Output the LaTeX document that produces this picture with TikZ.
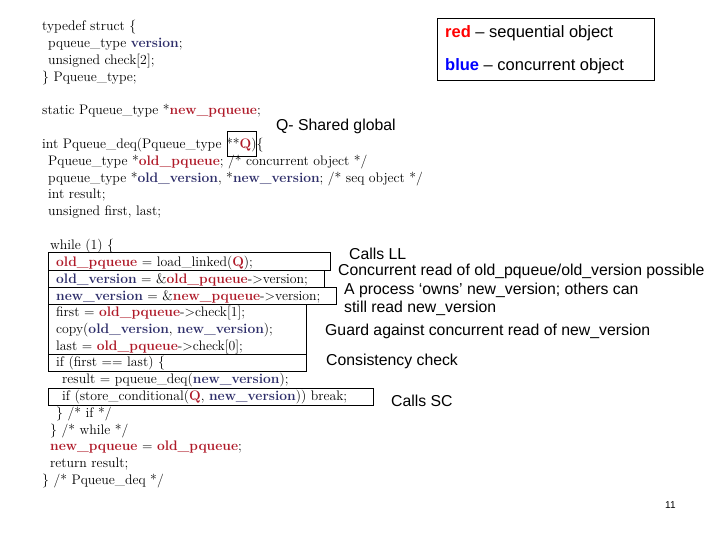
\documentclass[tikz,border=0pt]{standalone}
\usepackage{fontspec}
\newfontfamily\lsans{Liberation Sans}
\definecolor{cred}{RGB}{175,25,40}
\definecolor{cblue}{RGB}{45,45,105}
\newcommand{\R}[1]{\textcolor{cred}{\textbf{#1}}}
\newcommand{\B}[1]{\textcolor{cblue}{\textbf{#1}}}
\begin{document}
\begin{tikzpicture}[x=1pt,y=-1pt,
  code/.style={anchor=west,inner sep=0pt,font=\fontsize{13.8}{16}\selectfont},
  note/.style={anchor=west,inner sep=0pt,font=\lsans\fontsize{15.8}{18}\selectfont},
  leg/.style={anchor=west,inner sep=0pt,font=\lsans\fontsize{16.5}{19}\selectfont},
  bx/.style={draw,line width=0.7pt}]
\useasboundingbox (0,0) rectangle (720,540);
% top code
\node[code] (l1) at (42,27) {typedef struct \{};
\node[code] (l2) at (48,44) {pqueue\_type \B{version};};
\node[code] (l3) at (48,61) {unsigned check[2];};
\node[code] (l4) at (42,78) {\} Pqueue\_type;};
\node[code] (l5) at (42,111) {static Pqueue\_type *\R{new\_pqueue};};
\node[code] (l6) at (42,145) {int Pqueue\_deq(Pqueue\_type **\R{Q})\{};
\node[code] (l7) at (48,162) {Pqueue\_type *\R{old\_pqueue}; /* concurrent object */};
\node[code] (l8) at (48,179) {pqueue\_type *\B{old\_version}, *\B{new\_version}; /* seq object */};
\node[code] (l9) at (48,195) {int result;};
\node[code] (l10) at (48,212) {unsigned first, last;};
% loop
\node[code] (w0) at (50,246) {while (1) \{};
\node[code] (w1) at (56,263) {\R{old\_pqueue} = load\_linked(\R{Q});};
\node[code] (w2) at (56,280) {\B{old\_version} = \&\R{old\_pqueue}->version;};
\node[code] (w3) at (56,297) {\B{new\_version} = \&\R{new\_pqueue}->version;};
\node[code] (w4) at (56,313) {first = \R{old\_pqueue}->check[1];};
\node[code] (w5) at (56,330) {copy(\B{old\_version}, \B{new\_version});};
\node[code] (w6) at (56,347) {last = \R{old\_pqueue}->check[0];};
\node[code] (w7) at (56,363) {if (first == last) \{};
\node[code] (w8) at (62,380) {result = pqueue\_deq(\B{new\_version});};
\node[code] (w9) at (62,397) {if (store\_conditional(\R{Q}, \B{new\_version})) break;};
\node[code] (w10) at (56,414) {\} /* if */};
\node[code] (w11) at (50,431) {\} /* while */};
\node[code] (w12) at (50,447) {\R{new\_pqueue} = \R{old\_pqueue};};
\node[code] (w13) at (50,464) {return result;};
\node[code] (w14) at (42,481) {\} /* Pqueue\_deq */};
% boxes
\draw[bx] (227,131) rectangle (256,156);
\draw[bx] (48,252) rectangle (330,270);
\draw[bx] (48,270) rectangle (324,287);
\draw[bx] (48,287) rectangle (336,304);
\draw[bx] (48,304) rectangle (306,354);
\draw[bx] (48,354) rectangle (306,371);
\draw[bx] (48,388) rectangle (373,405);
% legend
\draw[bx] (437,18) rectangle (654,80);
\node[leg] (lg1) at (445,33) {\textcolor{red}{\textbf{red}} – sequential object};
\node[leg] (lg2) at (445,66) {\textcolor{blue}{\textbf{blue}} – concurrent object};
% notes
\node[note] (q) at (276,126) {Q- Shared global};
\node[note] (n1) at (349,254) {Calls LL};
\node[note] (n2) at (338,271) {Concurrent read of old\_pqueue/old\_version possible};
\node[note] (n3) at (344,290) {A process ‘owns’ new\_version; others can};
\node[note] (n4) at (344,308) {still read new\_version};
\node[note] (n5) at (325,331) {Guard against concurrent read of new\_version};
\node[note] (n6) at (326,361) {Consistency check};
\node[note] (n7) at (391,401) {Calls SC};
\node[anchor=west,inner sep=0pt,font=\lsans\fontsize{10}{12}\selectfont] (pg) at (665,505) {11};
\end{tikzpicture}
\end{document}
